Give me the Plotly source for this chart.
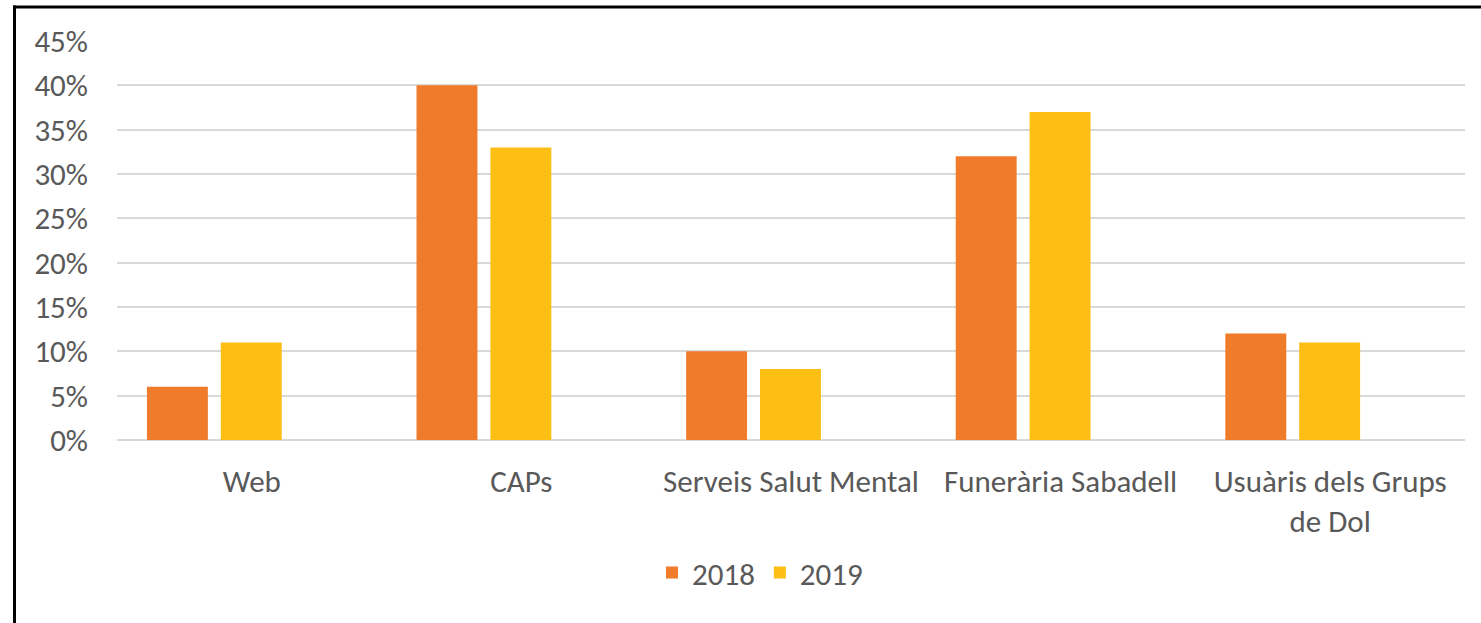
import plotly.graph_objects as go

categories = ["Web", "CAPs", "Serveis Salut Mental", "Funerària Sabadell", "Usuàris dels Grups<br>de Dol"]
values_2018 = [0.06, 0.40, 0.10, 0.32, 0.12]
values_2019 = [0.11, 0.33, 0.08, 0.37, 0.11]
tick_vals = [0, 0.05, 0.10, 0.15, 0.20, 0.25, 0.30, 0.35, 0.40, 0.45]
tick_text = ["0%", "5%", "10%", "15%", "20%", "25%", "30%", "35%", "40%", "45%"]

FONT = "Calibri, Carlito, Lato, sans-serif"
TXT = "#595959"
FS = 31

fig = go.Figure()
fig.add_trace(go.Bar(x=categories, y=values_2018, name="2018",
                     marker=dict(color="#F07B2B", line=dict(width=0)),
                     width=0.226, offset=-0.389))
fig.add_trace(go.Bar(x=categories, y=values_2019, name="2019",
                     marker=dict(color="#FDBF14", line=dict(width=0)),
                     width=0.226, offset=-0.115))

fig.update_layout(
    width=1481, height=623,
    margin=dict(l=117, r=16, t=41, b=183),
    paper_bgcolor="white", plot_bgcolor="white",
    font=dict(family=FONT, color=TXT, size=FS),
    barmode="group",
    showlegend=True,
    legend=dict(orientation="h", x=0.477, xanchor="center", y=-0.333, yanchor="middle",
                font=dict(size=FS, color=TXT), itemwidth=30, traceorder="normal"),
    xaxis=dict(showgrid=False, showline=False, ticks="", ticklabelstandoff=20,
               tickfont=dict(size=FS, color=TXT)),
    yaxis=dict(range=[0, 0.45], tickvals=tick_vals, ticktext=tick_text,
               showgrid=True, gridcolor="#D9D9D9", gridwidth=1.5,
               zeroline=True, zerolinecolor="#D9D9D9", zerolinewidth=1.5,
               showline=False, ticks="", ticklabelstandoff=28,
               tickfont=dict(size=FS, color=TXT)),
    shapes=[
        dict(type="line", xref="paper", yref="paper",
             x0=(14.5 - 117) / 1348, x1=(14.5 - 117) / 1348, y0=(440 - 5.5) / 399, y1=(440 - 640) / 399,
             line=dict(color="black", width=3)),
        dict(type="line", xref="paper", yref="paper",
             x0=(13 - 117) / 1348, x1=(1500 - 117) / 1348, y0=(440 - 7) / 399, y1=(440 - 7) / 399,
             line=dict(color="black", width=3)),
    ],
)

fig.write_html("out.html", config={"displayModeBar": False},
               post_script="document.body.style.margin='0';document.body.style.overflow='hidden';")
